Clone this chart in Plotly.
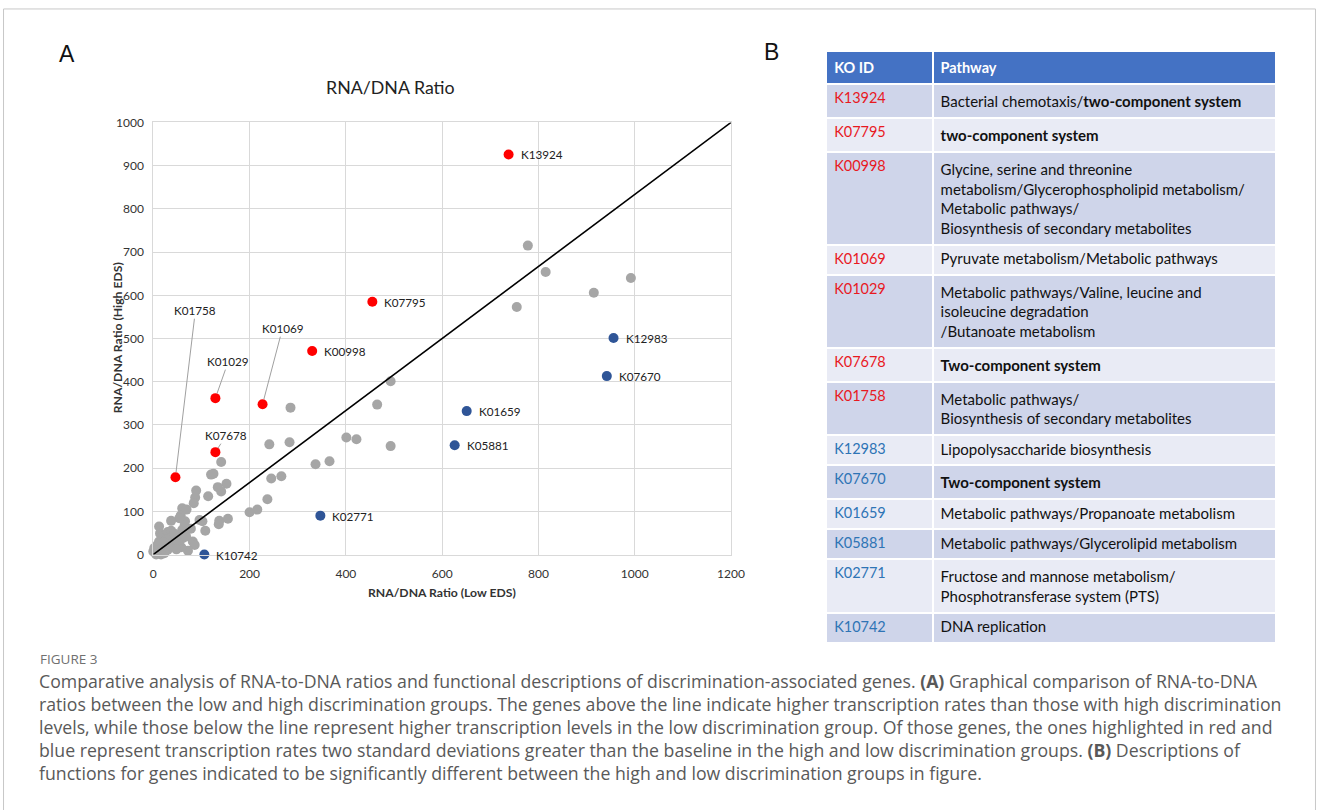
import plotly.graph_objects as go

# Figure size; the page keeps its default 8px body margin and the photograph
# comes out slightly scaled, so target pixel positions are mapped back here.
W, H = 1330, 810
BODY = 8
SX, CX = 0.986, -4.0
SY, CY = 0.979, 0.0


def px(x):
    return ((x - CX) / SX - BODY) / W


def py(y):
    return 1 - ((y - CY) / SY - BODY) / H


# ---------------- data (panel A) ----------------
gray_x = [778, 815, 755, 915, 992,
          493, 465, 285, 493, 401, 422, 337, 366, 241, 283, 245, 266, 237, 216, 200,
          141, 120, 125, 152, 134, 141, 114, 89, 87, 84, 60, 69, 57, 54, 66, 65, 60, 37, 12,
          14, 19, 30, 37, 40, 33, 42, 96, 102, 108, 137, 136, 155, 82, 86, 72, 58, 47, 53,
          61, 68, 2, 6, 9, 12, 0, 19, 26, 30, 23, 37, 16, 6, 44, 50, 28, 22, 48, 78]
gray_y = [715, 654, 573, 606, 640,
          401, 347, 340, 251, 271, 267, 209, 216, 255, 260, 176, 181, 128, 104, 98,
          214, 185, 187, 164, 156, 146, 135, 148, 132, 119, 107, 104, 90, 84, 77, 67, 57, 78, 65,
          49, 43, 52, 55, 43, 38, 34, 80, 77, 55, 78, 70, 83, 30, 22, 9, 17, 22, 26,
          38, 42, 15, 7, 23, 30, 7, 15, 23, 11, 3, 19, 0, 0, 48, 30, 34, 28, 12, 60]

high_ids = ["K13924", "K07795", "K00998", "K01069", "K01029", "K07678", "K01758"]
high_x = [738, 455, 330, 227, 129, 129, 46]
high_y = [926, 585, 471, 348, 362, 237, 179]

low_ids = ["K12983", "K07670", "K01659", "K05881", "K02771", "K10742"]
low_x = [956, 942, 651, 626, 347, 106]
low_y = [501, 413, 332, 253, 90, 0]

diag_x = [0, 1200]
diag_y = [0, 1000]

x_ticks = [0, 200, 400, 600, 800, 1000, 1200]
y_ticks = [0, 100, 200, 300, 400, 500, 600, 700, 800, 900, 1000]

# ---------------- data (panel B) ----------------
table_ids = ["K13924", "K07795", "K00998", "K01069", "K01029", "K07678", "K01758",
             "K12983", "K07670", "K01659", "K05881", "K02771", "K10742"]
table_groups = ["high"] * 7 + ["low"] * 6
table_pathways = [
    "Bacterial chemotaxis/<b>two-component system</b>",
    "<b>two-component system</b>",
    "Glycine, serine and threonine<br>metabolism/Glycerophospholipid metabolism/<br>Metabolic pathways/<br>Biosynthesis of secondary metabolites",
    "Pyruvate metabolism/Metabolic pathways",
    "Metabolic pathways/Valine, leucine and<br>isoleucine degradation<br>/Butanoate metabolism",
    "<b>Two-component system</b>",
    "Metabolic pathways/<br>Biosynthesis of secondary metabolites",
    "Lipopolysaccharide biosynthesis",
    "<b>Two-component system</b>",
    "Metabolic pathways/Propanoate metabolism",
    "Metabolic pathways/Glycerolipid metabolism",
    "Fructose and mannose metabolism/<br>Phosphotransferase system (PTS)",
    "DNA replication",
]

caption_head = "FIGURE 3"
caption_lines = [
    "Comparative analysis of RNA-to-DNA ratios and functional descriptions of discrimination-associated genes. <b>(A)</b> Graphical comparison of RNA-to-DNA",
    "ratios between the low and high discrimination groups. The genes above the line indicate higher transcription rates than those with high discrimination",
    "levels, while those below the line represent higher transcription levels in the low discrimination group. Of those genes, the ones highlighted in red and",
    "blue represent transcription rates two standard deviations greater than the baseline in the high and low discrimination groups. <b>(B)</b> Descriptions of",
    "functions for genes indicated to be significantly different between the high and low discrimination groups in figure.",
]

# ---------------- styles ----------------
RED = "#ff0000"
BLUE = "#2f5597"
GRAY = "#a6a6a6"
ID_RED = "#e8191f"
ID_BLUE = "#2e74b5"
FILL_DARK = "#cfd5ea"
FILL_LIGHT = "#e9ebf5"
FONT = "Lato, Open Sans, sans-serif"

fig = go.Figure()

fig.add_trace(go.Scatter(x=gray_x, y=gray_y, mode="markers",
                         marker=dict(color=GRAY, size=10, line=dict(width=0)),
                         cliponaxis=False, showlegend=False, hoverinfo="skip"))
fig.add_trace(go.Scatter(x=diag_x, y=diag_y, mode="lines",
                         line=dict(color="black", width=1.6),
                         showlegend=False, hoverinfo="skip"))
fig.add_trace(go.Scatter(x=high_x, y=high_y, mode="markers", text=high_ids,
                         marker=dict(color=RED, size=10, line=dict(width=0)),
                         cliponaxis=False, showlegend=False))
fig.add_trace(go.Scatter(x=low_x, y=low_y, mode="markers", text=low_ids,
                         marker=dict(color=BLUE, size=10, line=dict(width=0)),
                         cliponaxis=False, showlegend=False))

# point labels
callouts = {"K01758": (20, -167), "K01069": (20, -76), "K01029": (13, -37), "K07678": (11, -17)}
annotations = []
for ids, xs, ys in [(high_ids, high_x, high_y), (low_ids, low_x, low_y)]:
    for k, xv, yv in zip(ids, xs, ys):
        if k in callouts:
            ax, ay = callouts[k]
            annotations.append(dict(x=xv, y=yv, xref="x", yref="y", text=k, showarrow=True,
                                    ax=ax, ay=ay, arrowhead=0, arrowwidth=1, arrowcolor="#a0a0a0",
                                    standoff=5, font=dict(family=FONT, size=11.7, color="#222")))
        else:
            annotations.append(dict(x=xv, y=yv, xref="x", yref="y", text=k, showarrow=False,
                                    xanchor="left", yanchor="middle", xshift=10,
                                    font=dict(family=FONT, size=11.7, color="#222")))

# titles & panel letters
annotations += [
    dict(x=px(391), y=py(87), xref="paper", yref="paper", text="RNA/DNA Ratio", showarrow=False,
         font=dict(family=FONT, size=17.8, color="#222"), xanchor="center", yanchor="middle"),
    dict(x=px(442), y=py(591), xref="paper", yref="paper", text="<b>RNA/DNA Ratio (Low EDS)</b>",
         showarrow=False, font=dict(family=FONT, size=12.2, color="#333"), xanchor="center", yanchor="middle"),
    dict(x=px(118), y=py(337), xref="paper", yref="paper", text="<b>RNA/DNA Ratio (High EDS)</b>",
         showarrow=False, textangle=-90, font=dict(family=FONT, size=12.2, color="#333"),
         xanchor="center", yanchor="middle"),
    dict(x=px(68), y=py(54), xref="paper", yref="paper", text="A", showarrow=False,
         font=dict(family="Liberation Sans Narrow, Liberation Sans", size=23, color="#111"),
         xanchor="center", yanchor="middle"),
    dict(x=px(771), y=py(52), xref="paper", yref="paper", text="B", showarrow=False,
         font=dict(family="Liberation Sans Narrow, Liberation Sans", size=23, color="#111"),
         xanchor="center", yanchor="middle"),
    dict(x=px(39), y=py(657), xref="paper", yref="paper", text=caption_head, showarrow=False,
         font=dict(family="Open Sans", size=13.5, color="#707070"), xanchor="left", yanchor="middle"),
]
for i, line in enumerate(caption_lines):
    annotations.append(dict(x=px(38), y=py(679 + 23 * i), xref="paper", yref="paper", text=line,
                            showarrow=False, xanchor="left", yanchor="middle",
                            font=dict(family="Open Sans", size=17.7, color="#595959")))

# table
fills = [FILL_DARK if i % 2 == 0 else FILL_LIGHT for i in range(len(table_ids))]
id_colors = [ID_RED if g == "high" else ID_BLUE for g in table_groups]
fig.add_trace(go.Table(
    domain=dict(x=[px(826), px(1276)], y=[py(720), py(51)]),
    columnwidth=[106, 342],
    header=dict(values=["<b>KO ID</b>", "<b>Pathway</b>"], fill_color="#4472c4",
                font=dict(family=FONT, size=14.5, color="white"), align="left", height=24,
                line=dict(color="white", width=2)),
    cells=dict(values=[table_ids, table_pathways],
               fill=dict(color=[fills, fills]),
               font=dict(family=FONT, size=[14.5, 15.0],
                         color=[id_colors, ["#111"] * len(table_ids)]),
               align="left", height=30, line=dict(color="white", width=2)),
))

fig.update_layout(
    width=W, height=H, margin=dict(l=0, r=0, t=0, b=0),
    paper_bgcolor="white", plot_bgcolor="white",
    xaxis=dict(domain=[px(154), px(731)], range=[0, 1200], tickvals=x_ticks,
               showgrid=True, gridcolor="#d9d9d9", gridwidth=1, zeroline=False,
               showline=True, linecolor="#d9d9d9", mirror=True, ticks="", ticklabelstandoff=8,
               tickfont=dict(family=FONT, size=12, color="#333")),
    yaxis=dict(domain=[py(553), py(122)], range=[0, 1000], tickvals=y_ticks,
               showgrid=True, gridcolor="#d9d9d9", gridwidth=1, zeroline=False,
               showline=True, linecolor="#d9d9d9", mirror=True, ticks="", ticklabelstandoff=6,
               tickfont=dict(family=FONT, size=12, color="#333")),
    annotations=annotations,
    shapes=[dict(type="rect", xref="paper", yref="paper", x0=0.0004, x1=0.9996,
                 y0=-0.01, y1=0.9988, line=dict(color="#c8c8c8", width=1))],
)

fig.write_html("out.html")
